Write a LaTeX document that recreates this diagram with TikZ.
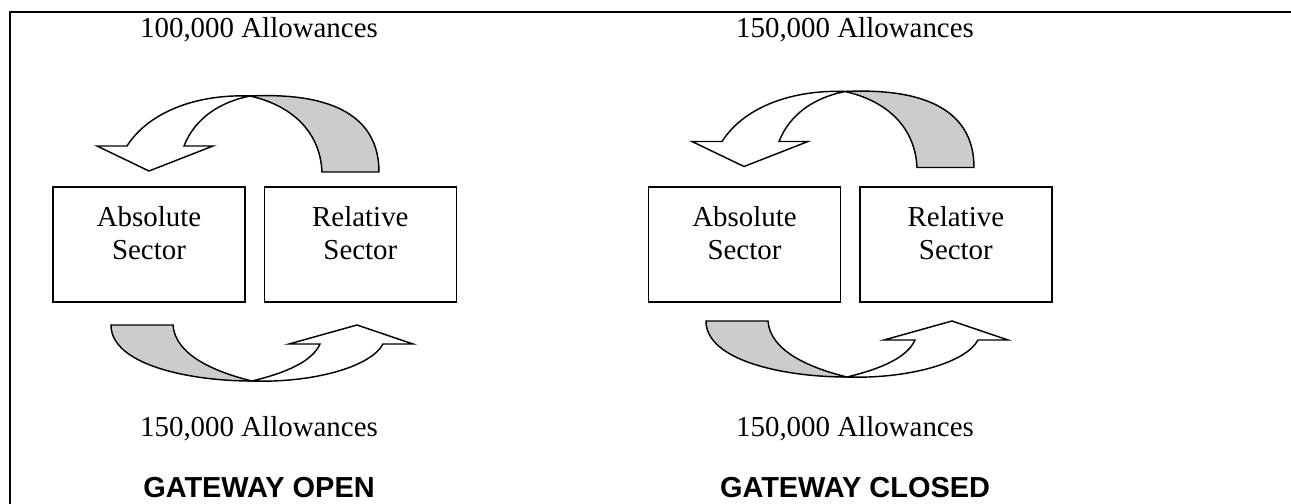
\documentclass[tikz,border=0pt]{standalone}
\usepackage{fontspec}
\setmainfont{Liberation Serif}
\setsansfont{Liberation Sans}
\usetikzlibrary{positioning}

\tikzset{
  sector/.style={draw, line width=0.6pt, minimum width=79.7pt, minimum height=47.7pt, inner sep=0},
  boxtext/.style={font=\fontsize{12pt}{13.8pt}\selectfont, align=center, inner sep=0},
  amount/.style={font=\fontsize{12pt}{13.8pt}\selectfont, anchor=base, inner sep=0},
  gate/.style={font=\fontsize{12pt}{13.8pt}\selectfont\sffamily\bfseries, anchor=base, inner sep=0},
  band/.style={draw, line width=0.6pt},
  % curved arrow over the boxes, head on the left
  pics/overarrow/.style={code={
    \filldraw[band, fill=gray!40] (250,96) .. controls (335,92) and (379,118) .. (379,172)
      -- (322,172) .. controls (320,130) and (290,105) .. (250,96) -- cycle;
    \filldraw[band, fill=white] (127,146) .. controls (150,110) and (200,94) .. (250,96)
      .. controls (220,102) and (195,118) .. (184,146)
      -- (213,146) -- (149,171) -- (97,146) -- cycle;
  }},
  % curved arrow under the boxes, head on the right
  pics/underarrow/.style={code={
    \filldraw[band, fill=gray!40] (111,325) -- (173,325) .. controls (175,355) and (215,372) .. (252,381)
      .. controls (190,381) and (111,365) .. (111,325) -- cycle;
    \filldraw[band, fill=white] (252,381) .. controls (310,383) and (370,368) .. (383,344)
      -- (413,344) -- (357,325) -- (289,344) -- (320,344)
      .. controls (312,362) and (285,373) .. (252,381) -- cycle;
  }},
}

\begin{document}
\begin{tikzpicture}[x=0.4149pt, y=-0.4149pt]
    \useasboundingbox (0,0) rectangle (1291,504);
    % frame
    \draw[line width=0.83pt] (10,504) -- (10,12) -- (1291,12);

    % gateway open
    \node[amount] (topL) at (259,37.5) {100,000 Allowances};
    \pic at (0,0) {overarrow};
    \node[sector] (absL) at (149,244.5) {};
    \node[sector, right=7.4pt of absL] (relL) {};
    \node[boxtext, below=8pt of absL.north] (absLtxt) {Absolute\\Sector};
    \node[boxtext, below=8pt of relL.north] (relLtxt) {Relative\\Sector};
    \pic at (0,0) {underarrow};
    \node[amount] (botL) at (259,436) {150,000 Allowances};
    \node[gate] (gateL) at (259,497.5) {GATEWAY OPEN};

    % gateway closed
    \node[amount] (topR) at (855,37.5) {150,000 Allowances};
    \pic at (595,-4.5) {overarrow};
    \node[sector] (absR) at (744.5,244.5) {};
    \node[sector, right=7.4pt of absR] (relR) {};
    \node[boxtext, below=8pt of absR.north] (absRtxt) {Absolute\\Sector};
    \node[boxtext, below=8pt of relR.north] (relRtxt) {Relative\\Sector};
    \pic at (595,-4) {underarrow};
    \node[amount] (botR) at (855,436) {150,000 Allowances};
    \node[gate] (gateR) at (855,497.5) {GATEWAY CLOSED};
\end{tikzpicture}
\end{document}
